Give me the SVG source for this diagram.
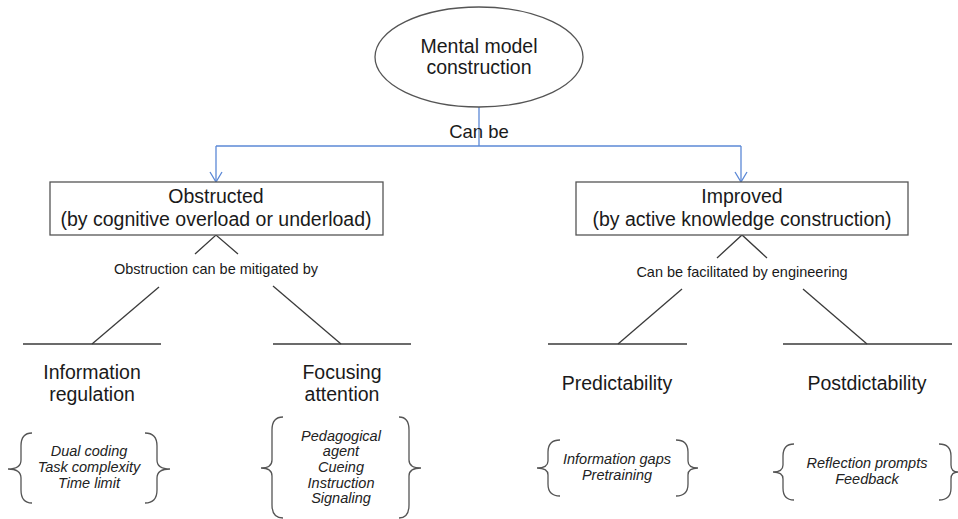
<svg xmlns="http://www.w3.org/2000/svg" width="958" height="519" viewBox="0 0 958 519">
<defs>
<style>
text{font-family:"Liberation Sans",Arial,sans-serif;fill:#1a1a1a;text-anchor:middle}
.big{font-size:19.5px}
.mid{font-size:18.5px}
.sm{font-size:14.5px}
.it{font-size:14.5px;font-style:italic;fill:#222}
.node{fill:#fff;stroke:#555;stroke-width:1.3}
.blue{fill:none;stroke:#5b88d6;stroke-width:1.3}
.tree{fill:none;stroke:#3a3a3a;stroke-width:1.3}
.brace{fill:none;stroke:#555;stroke-width:1.3}
</style>
<marker id="arr" viewBox="0 0 12 14" refX="11" refY="7" markerWidth="12" markerHeight="14" markerUnits="userSpaceOnUse" orient="auto">
<path d="M1,1 L11,7 L1,13" fill="none" stroke="#5b88d6" stroke-width="1.3"/>
</marker>
</defs>
<rect width="958" height="519" fill="#fff"/>

<g id="connectors">
<line class="blue" x1="479" y1="107" x2="479" y2="146"/>
<line class="blue" x1="216" y1="146" x2="741" y2="146"/>
<line class="blue" x1="216" y1="146" x2="216" y2="182" marker-end="url(#arr)"/>
<line class="blue" x1="741" y1="146" x2="741" y2="182" marker-end="url(#arr)"/>
<polyline class="tree" points="195,254 216,235 238,254"/>
<polyline class="tree" points="717,258 742,235 767,258"/>
<line class="tree" x1="159" y1="287" x2="92" y2="344"/>
<line class="tree" x1="23" y1="344" x2="161" y2="344"/>
<line class="tree" x1="273" y1="286" x2="341" y2="344"/>
<line class="tree" x1="273" y1="344" x2="411" y2="344"/>
<line class="tree" x1="682" y1="289" x2="618" y2="344"/>
<line class="tree" x1="548" y1="344" x2="687" y2="344"/>
<line class="tree" x1="803" y1="289" x2="867" y2="344"/>
<line class="tree" x1="783" y1="344" x2="952" y2="344"/>
<text class="mid" x="479" y="138">Can be</text>
<text class="sm" x="216" y="274">Obstruction can be mitigated by</text>
<text class="sm" x="742" y="277">Can be facilitated by engineering</text>
</g>

<g id="root">
<ellipse class="node" cx="479" cy="57" rx="104" ry="50" stroke="#333"/>
<text class="big" x="479" y="53">Mental model</text>
<text class="big" x="479" y="74">construction</text>
</g>

<g id="obstructed">
<rect class="node" x="50" y="182" width="333" height="53"/>
<text class="big" x="216" y="203">Obstructed</text>
<text class="big" x="216" y="226">(by cognitive overload or underload)</text>
</g>

<g id="improved">
<rect class="node" x="576" y="182" width="332" height="53"/>
<text class="big" x="742" y="203">Improved</text>
<text class="big" x="742" y="226">(by active knowledge construction)</text>
</g>

<g id="info-regulation">
<text class="big" x="92" y="379">Information</text>
<text class="big" x="92" y="401">regulation</text>
<path class="brace" d="M32,433 Q21,433 21,446 L21,460 Q21,469 8,469 Q21,469 21,478 L21,490 Q21,503 32,503"/>
<path class="brace" d="M145,433 Q157,433 157,446 L157,460 Q157,469 170,469 Q157,469 157,478 L157,490 Q157,503 145,503"/>
<text class="it" x="89" y="456">Dual coding</text>
<text class="it" x="89" y="472">Task complexity</text>
<text class="it" x="89" y="488">Time limit</text>
</g>

<g id="focusing-attention">
<text class="big" x="342" y="379">Focusing</text>
<text class="big" x="342" y="401">attention</text>
<path class="brace" d="M283,417 Q272,417 272,430 L272,460 Q272,468 261,468 Q272,468 272,476 L272,505 Q272,518 283,518"/>
<path class="brace" d="M399,417 Q409,417 409,430 L409,460 Q409,468 421,468 Q409,468 409,476 L409,505 Q409,518 399,518"/>
<text class="it" x="341" y="441">Pedagogical</text>
<text class="it" x="341" y="456">agent</text>
<text class="it" x="341" y="472">Cueing</text>
<text class="it" x="341" y="488">Instruction</text>
<text class="it" x="341" y="503">Signaling</text>
</g>

<g id="predictability">
<text class="big" x="617" y="390">Predictability</text>
<path class="brace" d="M560,440 Q548,440 548,452 L548,461 Q548,468 537,468 Q548,468 548,475 L548,484 Q548,496 560,496"/>
<path class="brace" d="M676,440 Q688,440 688,452 L688,461 Q688,468 698,468 Q688,468 688,475 L688,484 Q688,496 676,496"/>
<text class="it" x="617" y="464">Information gaps</text>
<text class="it" x="617" y="480">Pretraining</text>
</g>

<g id="postdictability">
<text class="big" x="867" y="390">Postdictability</text>
<path class="brace" d="M794,444 Q783,444 783,456 L783,465 Q783,472 773,472 Q783,472 783,479 L783,488 Q783,500 794,500"/>
<path class="brace" d="M939,444 Q951,444 951,456 L951,465 Q951,472 958,472 Q951,472 951,479 L951,488 Q951,500 939,500"/>
<text class="it" x="867" y="468">Reflection prompts</text>
<text class="it" x="867" y="484">Feedback</text>
</g>
</svg>
